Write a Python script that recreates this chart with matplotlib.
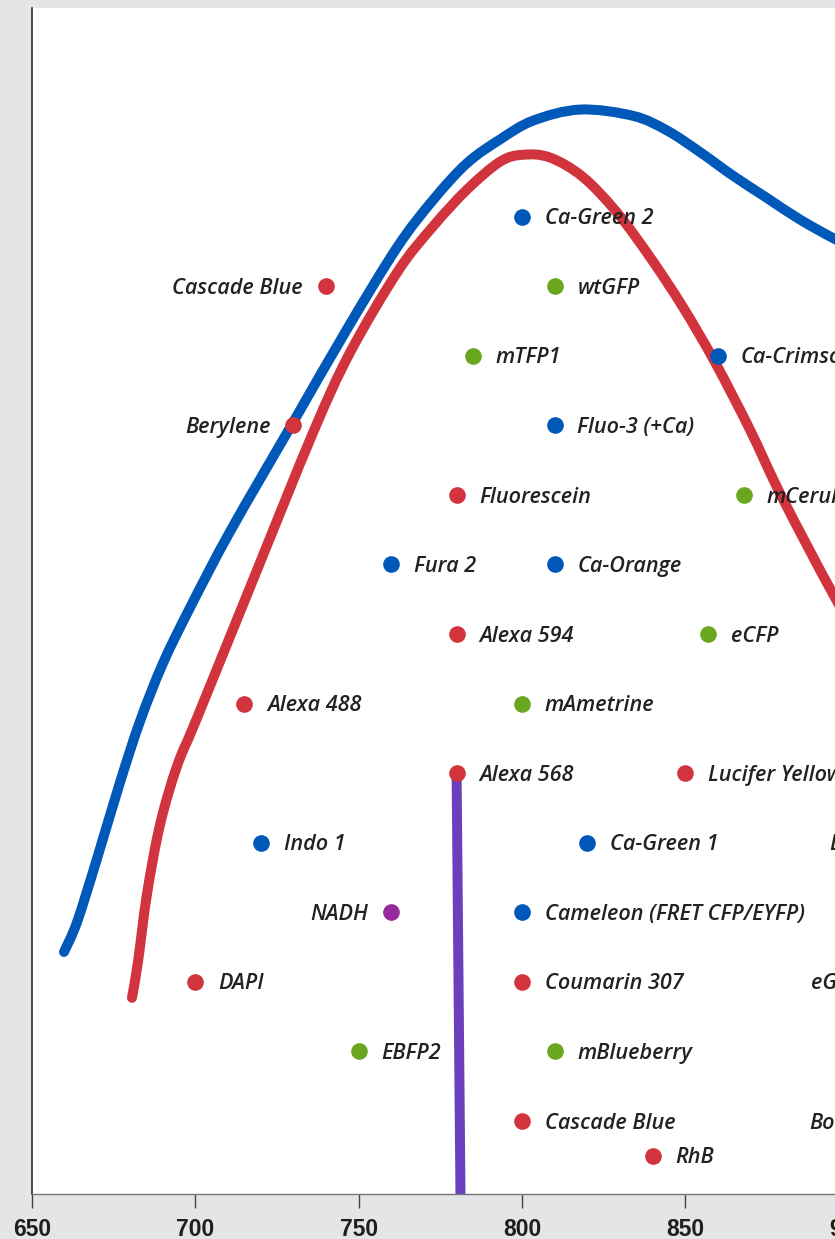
import matplotlib
matplotlib.use('Agg')
import matplotlib.pyplot as plt
from matplotlib.path import Path
from matplotlib.patches import PathPatch

# excitation curves: wavelength (nm) vs relative height (row units)
blue_x = [659.8, 663.8, 669.9, 676.9, 683.1, 690.1, 698.4, 710.6, 729.9, 746.4,
          761.8, 772.8, 783.2, 793.3, 803.4, 817.8, 834.0, 844.4, 854.5, 864.6,
          875.0, 885.1, 895.8, 906.5, 915.8]
blue_y = [3.43, 3.86, 4.77, 5.86, 6.75, 7.58, 8.38, 9.47, 11.04, 12.38,
          13.56, 14.24, 14.77, 15.11, 15.38, 15.54, 15.45, 15.24, 14.93, 14.59,
          14.27, 13.96, 13.68, 13.44, 13.26]

red_x = [680.6, 682.4, 685.2, 689.2, 694.4, 700.5, 718.3, 736.0, 747.3, 762.1,
         772.8, 783.2, 793.3, 800.3, 808.6, 818.7, 829.1, 839.2, 849.3, 859.1,
         869.8, 879.6, 895.8, 906.6, 915.8]
red_y = [2.77, 3.27, 4.26, 5.26, 6.10, 6.79, 8.85, 10.89, 12.04, 13.22,
         13.86, 14.39, 14.79, 14.89, 14.85, 14.57, 14.06, 13.42, 12.70, 11.91,
         10.94, 9.97, 8.53, 7.70, 7.05]

# laser line
laser_x = [780.0, 781.3]
laser_y = [6.02, -0.6]

# dyes: name, wavelength, row, group, label side
dye_names = ['Ca-Green 2', 'Cascade Blue', 'wtGFP', 'mTFP1', 'Ca-Crimson',
             'Berylene', 'Fluo-3 (+Ca)', 'Fluorescein', 'mCerulean', 'Fura 2',
             'Ca-Orange', 'Alexa 594', 'eCFP', 'Alexa 488', 'mAmetrine',
             'Alexa 568', 'Lucifer Yellow', 'Indo 1', 'Ca-Green 1', 'LysoTracker',
             'NADH', 'Cameleon (FRET CFP/EYFP)', 'DAPI', 'Coumarin 307', 'eGFP',
             'EBFP2', 'mBlueberry', 'Cascade Blue', 'Bodipy', 'RhB']
dye_wl = [800, 740, 810, 785, 860,
          730, 810, 780, 868, 760,
          810, 780, 857, 715, 800,
          780, 850, 720, 820, 936.5,
          760, 800, 700, 800, 910.5,
          750, 810, 800, 915.5, 840]
dye_row = [14, 13, 13, 12, 12,
           11, 11, 10, 10, 9,
           9, 8, 8, 7, 7,
           6, 6, 5, 5, 5,
           4, 4, 3, 3, 3,
           2, 2, 1, 1, 0.5]
dye_group = ['blue', 'red', 'green', 'green', 'blue',
             'red', 'blue', 'red', 'green', 'blue',
             'blue', 'red', 'green', 'red', 'green',
             'red', 'red', 'blue', 'blue', 'red',
             'purple', 'blue', 'red', 'red', 'green',
             'green', 'green', 'red', 'red', 'red']
dye_side = ['r', 'l', 'r', 'r', 'r',
            'l', 'r', 'r', 'r', 'r',
            'r', 'r', 'r', 'r', 'r',
            'r', 'r', 'r', 'r', 'l',
            'l', 'r', 'r', 'r', 'l',
            'r', 'r', 'r', 'l', 'r']

tick_vals = [650, 700, 750, 800, 850, 900, 950]
tick_labels = ['650', '700', '750', '800', '850', '900', '950']

colors = {'red': '#d1343c', 'blue': '#0058b9', 'green': '#6aa71e', 'purple': '#97299b'}


def smooth_path(xs, ys):
    # Catmull-Rom through the points, drawn as cubic Bezier segments
    pts = list(zip(xs, ys))
    verts = [pts[0]]
    codes = [Path.MOVETO]
    n = len(pts)
    for i in range(n - 1):
        p0 = pts[max(i - 1, 0)]
        p1 = pts[i]
        p2 = pts[i + 1]
        p3 = pts[min(i + 2, n - 1)]
        c1 = (p1[0] + (p2[0] - p0[0]) / 6, p1[1] + (p2[1] - p0[1]) / 6)
        c2 = (p2[0] - (p3[0] - p1[0]) / 6, p2[1] - (p3[1] - p1[1]) / 6)
        verts += [c1, c2, p2]
        codes += [Path.CURVE4] * 3
    return Path(verts, codes)


W, H = 835, 1239
fig = plt.figure(figsize=(W / 100, H / 100), dpi=100, facecolor='#e4e5e7')
ax = fig.add_axes([32 / W, 45 / H, 979.8 / W, 1186 / H])
ax.set_facecolor('white')

for xs, ys, c in [(blue_x, blue_y, '#0058b9'), (red_x, red_y, '#d1343c')]:
    ax.add_patch(PathPatch(smooth_path(xs, ys), fill=False, edgecolor=c, lw=7.2,
                           capstyle='round', joinstyle='round', zorder=2))
ax.plot(laser_x, laser_y, color='#6a40be', lw=7.2, solid_capstyle='butt', zorder=2)

for name, wl, row, grp, side in zip(dye_names, dye_wl, dye_row, dye_group, dye_side):
    ax.plot(wl, row, 'o', ms=12, color=colors[grp], mec='none', zorder=3)
    dx = 16.5 if side == 'r' else -16.5
    ax.annotate(name, (wl, row), xytext=(dx, -1.5), textcoords='offset points',
                ha='left' if side == 'r' else 'right', va='center',
                fontsize=15.6, fontstyle='italic', fontweight=600,
                family=['Open Sans', 'DejaVu Sans'], color='#222222', zorder=4)

ax.set_xlim(650, 950)
ax.set_ylim(-0.05, 17.0)
ax.set_xticks(tick_vals)
ax.set_xticklabels(tick_labels)
ax.set_yticks([])
ax.tick_params(axis='x', length=10, width=1, color='#444444', pad=7.5)
for lab in ax.get_xticklabels():
    lab.set_family('Liberation Sans')
    lab.set_weight('bold')
    lab.set_size(16.5)
    lab.set_color('#1e1e1e')

ax.spines['top'].set_visible(False)
ax.spines['right'].set_visible(False)
ax.spines['left'].set_color('#1a1a1a')
ax.spines['left'].set_linewidth(1.1)
ax.spines['bottom'].set_color('#777777')
ax.spines['bottom'].set_linewidth(1.0)

fig.savefig('out.png', dpi=100, facecolor=fig.get_facecolor())
